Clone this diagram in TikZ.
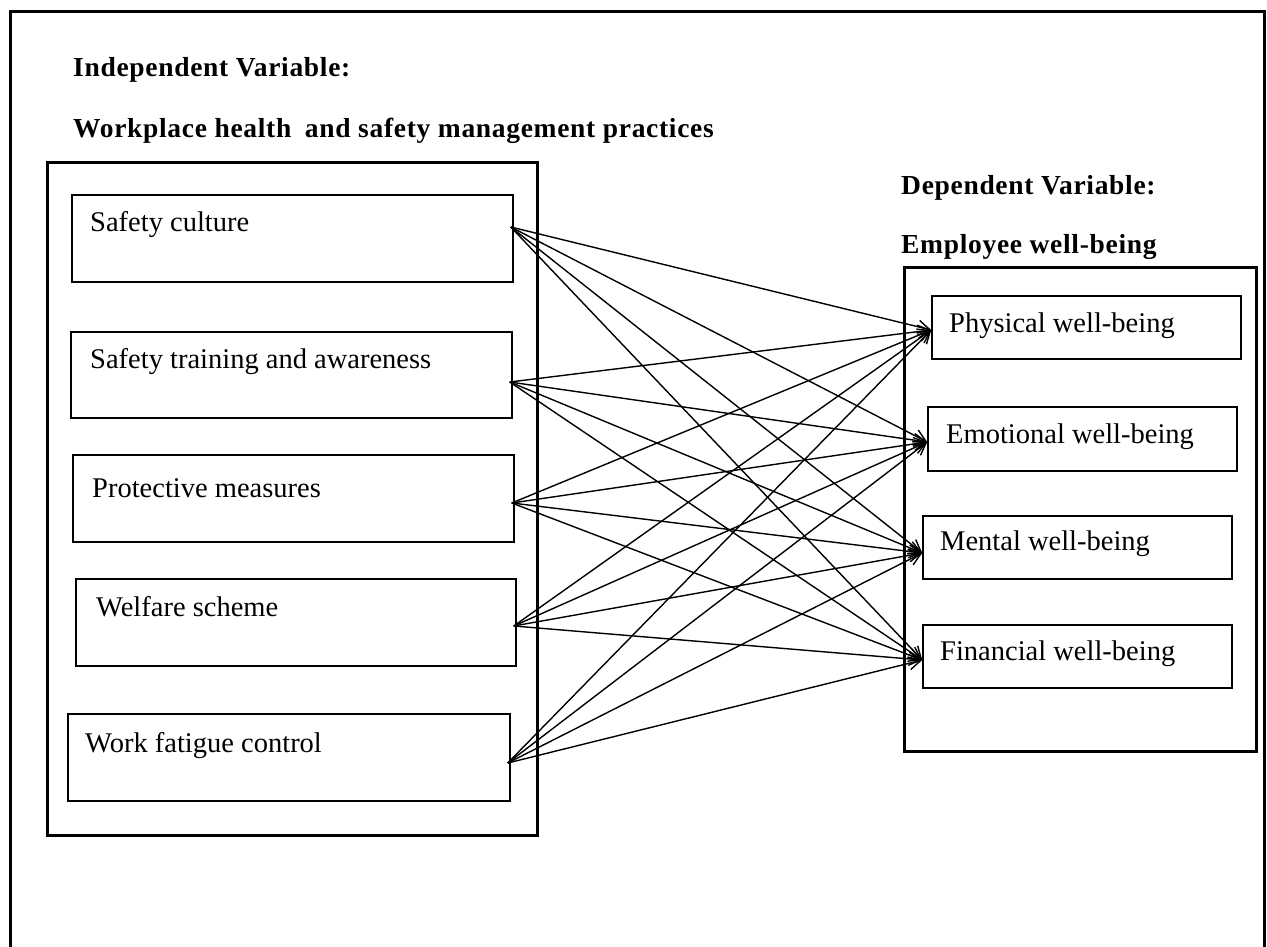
\documentclass[tikz,border=0pt]{standalone}
\usepackage{fontspec}
\setmainfont{Liberation Serif}
\newfontfamily\headfont{Liberation Serif}[LetterSpace=2.5]
\usetikzlibrary{arrows.meta,fit}
\tikzset{
  frameline/.style={line width=3pt},
  bigbox/.style={draw, line width=3pt, inner sep=0pt},
  itembox/.style={draw, line width=1.5pt, inner sep=0pt},
  headtext/.style={anchor=base west, inner sep=0pt, font=\headfont\bfseries\fontsize{27.5}{33}\selectfont},
  itemtext/.style={anchor=base west, inner sep=0pt, font=\fontsize{28.5}{34}\selectfont},
  arr/.style={line width=1.4pt, -{Straight Barb[length=12pt,width=13pt]}}
}
\begin{document}
\begin{tikzpicture}[x=1pt,y=-1pt]
\useasboundingbox[fill=white] (0,0) rectangle (1267,947);
% outer frame (open at the bottom)
\draw[frameline] (10,947) -- (10,12) -- (1264,12) -- (1264,947);

% headings
\node[headtext] (hI) at (73,77) {Independent Variable:};
\node[headtext] (hW) at (73,138) {Workplace health\hspace{6pt} and safety management practices};
\node[headtext] (hD) at (901,194) {Dependent Variable:};
\node[headtext] (hE) at (901,253) {Employee well-being};

% big boxes
\node[bigbox, fit={(47,163) (537,835)}] (L) {};
\node[bigbox, fit={(904,267) (1256,751)}] (R) {};

% left item boxes
\node[itembox, fit={(72,195) (513,282)}] (b1) {};
\node[itembox, fit={(71,332) (512,418)}] (b2) {};
\node[itembox, fit={(73,455) (514,542)}] (b3) {};
\node[itembox, fit={(76,579) (516,666)}] (b4) {};
\node[itembox, fit={(68,714) (510,801)}] (b5) {};
\node[itemtext] (t1) at (90,231) {Safety culture};
\node[itemtext] (t2) at (90,368) {Safety training and awareness};
\node[itemtext] (t3) at (92,497) {Protective measures};
\node[itemtext] (t4) at (96,616) {Welfare scheme};
\node[itemtext] (t5) at (85,752) {Work fatigue control};

% right item boxes
\node[itembox, fit={(932,296) (1241,359)}] (p1) {};
\node[itembox, fit={(928,407) (1237,471)}] (p2) {};
\node[itembox, fit={(923,516) (1232,579)}] (p3) {};
\node[itembox, fit={(923,625) (1232,688)}] (p4) {};
\node[itemtext] (u1) at (949,332) {Physical well-being};
\node[itemtext] (u2) at (946,443) {Emotional well-being};
\node[itemtext] (u3) at (940,550) {Mental well-being};
\node[itemtext] (u4) at (940,660) {Financial well-being};

% connectors
\foreach \s/\sy in {b1/11.5,b2/-7,b3/-4.5,b4/-3.5,b5/-5.5}
  \foreach \t/\ty in {p1/-2.5,p2/-3,p3/-5.5,p4/-3.5}
    \draw[arr] ([xshift=-3pt,yshift=\sy pt]\s.east) -- ([yshift=\ty pt]\t.west);
\end{tikzpicture}
\end{document}
